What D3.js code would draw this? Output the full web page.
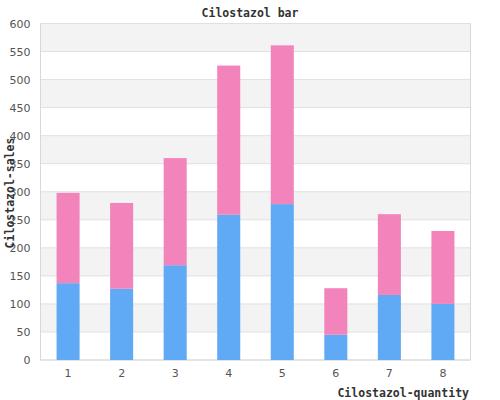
<!DOCTYPE html>
<html>
<head>
<meta charset="utf-8">
<script src="https://cdn.jsdelivr.net/npm/d3@7"></script>
<style>
  body { margin: 0; background: #fff; }
</style>
</head>
<body>
<div id="chart-area"></div>
<script>
var categories = ['1', '2', '3', '4', '5', '6', '7', '8'];
var blueValues = [137, 127, 169, 259, 278, 45, 116, 100];
var pinkValues = [161, 153, 191, 266, 283, 83, 144, 130];
var yTicks = [0, 50, 100, 150, 200, 250, 300, 350, 400, 450, 500, 550, 600];

var margins = { top: 23.5, bottom: 40, left: 40.5, right: 29.5 };
var width = 500 - margins.left - margins.right;
var height = 400 - margins.top - margins.bottom;

var svg = d3.select('#chart-area')
    .append('svg')
    .attr('width', 500)
    .attr('height', 400);

var g = svg.append('g')
    .attr('transform', `translate(${margins.left}, ${margins.top})`);

var x = d3.scaleBand()
    .domain(categories)
    .range([0, width])
    .paddingInner(0.57)
    .paddingOuter(0.3);

var y = d3.scaleLinear()
    .domain([0, 600])
    .range([height, 0]);

// alternating stripes
g.selectAll('rect.stripe')
    .data(yTicks.filter(d => d > 0 && d % 100 === 0))
    .enter()
    .append('rect')
    .attr('class', 'stripe')
    .attr('x', 0)
    .attr('y', d => y(d))
    .attr('width', width)
    .attr('height', d => y(d - 50) - y(d))
    .attr('fill', '#f3f3f3');

// grid lines
g.selectAll('line.grid')
    .data(yTicks)
    .enter()
    .append('line')
    .attr('class', 'grid')
    .attr('x1', 0)
    .attr('x2', width)
    .attr('y1', d => y(d))
    .attr('y2', d => y(d))
    .attr('stroke', '#e0e0e0')
    .attr('stroke-width', 1);

// frame
g.append('path')
    .attr('d', `M0,0V${height}H${width}V0`)
    .attr('fill', 'none')
    .attr('stroke', '#d8d8d8')
    .attr('stroke-width', 1);

var data = categories.map((c, i) => ({ cat: c, blue: blueValues[i], pink: pinkValues[i] }));

g.selectAll('rect.blue')
    .data(data)
    .enter()
    .append('rect')
    .attr('class', 'blue')
    .attr('x', d => x(d.cat))
    .attr('y', d => y(d.blue))
    .attr('width', x.bandwidth())
    .attr('height', d => height - y(d.blue))
    .attr('fill', '#60a9f5');

g.selectAll('rect.pink')
    .data(data)
    .enter()
    .append('rect')
    .attr('class', 'pink')
    .attr('x', d => x(d.cat))
    .attr('y', d => y(d.blue + d.pink))
    .attr('width', x.bandwidth())
    .attr('height', d => y(d.blue) - y(d.blue + d.pink))
    .attr('fill', '#f283bb');

// y axis labels
var yAxisCall = d3.axisLeft(y).tickValues(yTicks).tickSize(0).tickPadding(10);
var yAxis = g.append('g').attr('class', 'y-axis').call(yAxisCall);
yAxis.select('.domain').remove();
yAxis.selectAll('text')
    .attr('font-family', 'DejaVu Sans, sans-serif')
    .attr('font-size', '11px')
    .attr('fill', '#555');

var xAxisCall = d3.axisBottom(x).tickSize(0).tickPadding(9);
var xAxis = g.append('g')
    .attr('class', 'x-axis')
    .attr('transform', `translate(0, ${height})`)
    .call(xAxisCall);
xAxis.select('.domain').remove();
xAxis.selectAll('text')
    .attr('font-family', 'DejaVu Sans, sans-serif')
    .attr('font-size', '11px')
    .attr('fill', '#555');

svg.append('text')
    .attr('x', 250)
    .attr('y', 17)
    .attr('text-anchor', 'middle')
    .attr('font-family', 'DejaVu Sans Mono, monospace')
    .attr('font-weight', 'bold')
    .attr('font-size', '11.5px')
    .attr('fill', '#333')
    .text('Cilostazol bar');

svg.append('text')
    .attr('x', 469)
    .attr('y', 397)
    .attr('text-anchor', 'end')
    .attr('font-family', 'DejaVu Sans Mono, monospace')
    .attr('font-weight', 'bold')
    .attr('font-size', '11.5px')
    .attr('fill', '#333')
    .text('Cilostazol-quantity');

svg.append('text')
    .attr('transform', 'rotate(-90)')
    .attr('x', -193)
    .attr('y', 14)
    .attr('text-anchor', 'middle')
    .attr('font-family', 'DejaVu Sans Mono, monospace')
    .attr('font-weight', 'bold')
    .attr('font-size', '11.5px')
    .attr('fill', '#333')
    .text('Cilostazol-sales');
</script>
</body>
</html>
